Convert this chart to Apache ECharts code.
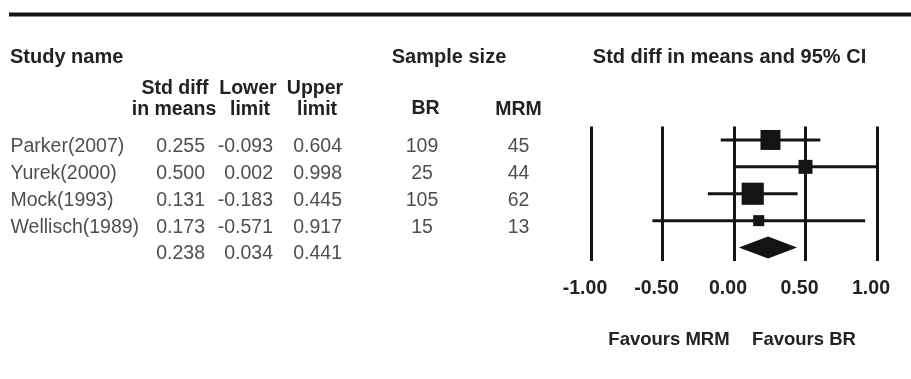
<!DOCTYPE html>
<html><head><meta charset="utf-8">
<script src="https://cdn.jsdelivr.net/npm/echarts@6/dist/echarts.min.js"></script>
<style>html,body{margin:0;padding:0;background:#fff}#c{width:911px;height:379px}</style>
</head><body><div id="c"></div>
<script>
// ---- data ----
const studies = ['Parker(2007)', 'Yurek(2000)', 'Mock(1993)', 'Wellisch(1989)'];
const stdDiff = [0.255, 0.500, 0.131, 0.173];
const lowerLimit = [-0.093, 0.002, -0.183, -0.571];
const upperLimit = [0.604, 0.998, 0.445, 0.917];
const sampleBR = [109, 25, 105, 15];
const sampleMRM = [45, 44, 62, 13];
const summary = { est: 0.238, lower: 0.034, upper: 0.441 };
const xTicks = [-1, -0.5, 0, 0.5, 1];

// ---- layout (not data) ----
const FONT = '"Liberation Sans", Arial, Helvetica, sans-serif';
const FS = 19.5;
const TXT = '#222';
const INK = '#141414';
const GRID_TOP = 126.5, GRID_H = 134.5;
const COL = { name: 10.5, est: 205, lo: 273, up: 342, br: 422, mrm: 518.5 };
const rowCount = studies.length + 1;
const rows = [];
for (let i = 0; i < rowCount; i++) rows.push('r' + i);
const summaryRow = studies.length;

const chart = echarts.init(document.getElementById('c'), null, { renderer: 'canvas' });

function textCol(key, getText, align) {
  const data = [];
  for (let i = 0; i < rowCount; i++) {
    const t = getText(i);
    if (t !== null && t !== undefined && t !== '') data.push({ value: [COL[key], i], txt: t });
  }
  return {
    type: 'scatter', xAxisIndex: 1, yAxisIndex: 1, symbolSize: 0, silent: true,
    data: data,
    label: {
      show: true, position: 'inside', align: align, verticalAlign: 'middle', offset: [0, 6.5],
      color: TXT, fontFamily: FONT, fontSize: FS,
      formatter: p => p.data.txt
    }
  };
}

const ciData = studies.map((s, i) => [lowerLimit[i], upperLimit[i], i]);
const sqData = studies.map((s, i) => [stdDiff[i], i, lowerLimit[i], upperLimit[i]]);

function hdr(text, x, y, align, size) {
  return { type: 'text', x: x, y: y, silent: true,
    style: { text: text, fill: TXT, font: 'bold ' + (size || FS) + 'px ' + FONT, align: align || 'center', verticalAlign: 'middle' } };
}

chart.setOption({
  animation: false,
  backgroundColor: '#fff',
  grid: [
    { left: 591, right: 34, top: GRID_TOP, height: GRID_H },
    { left: 0, width: 560, top: GRID_TOP, height: GRID_H }
  ],
  xAxis: [
    { gridIndex: 0, type: 'value', min: -1, max: 1, interval: 0.5,
      axisLine: { show: false }, axisTick: { show: false },
      splitLine: { show: true, lineStyle: { color: INK, width: 3 } },
      axisLabel: { show: true, margin: 17.5, color: TXT, fontFamily: FONT, fontWeight: 'bold', fontSize: FS,
        padding: [0, 12, 0, 0],
        formatter: v => v.toFixed(2) } },
    { gridIndex: 1, type: 'value', min: 0, max: 560, show: false }
  ],
  yAxis: [
    { gridIndex: 0, type: 'category', data: rows, inverse: true, show: false },
    { gridIndex: 1, type: 'category', data: rows, inverse: true, show: false }
  ],
  series: [
    { type: 'custom', xAxisIndex: 0, yAxisIndex: 0, data: ciData, silent: true,
      renderItem: (params, api) => {
        const a = api.coord([api.value(0), api.value(2)]);
        const b = api.coord([api.value(1), api.value(2)]);
        return { type: 'line', shape: { x1: a[0], y1: a[1], x2: b[0], y2: b[1] },
          style: { stroke: INK, lineWidth: 3 } };
      } },
    { type: 'scatter', xAxisIndex: 0, yAxisIndex: 0, data: sqData, symbol: 'rect', silent: true,
      symbolSize: v => Math.max(11, 3.55 * 3.92 / (v[3] - v[2])),
      itemStyle: { color: INK, opacity: 1 } },
    { type: 'custom', xAxisIndex: 0, yAxisIndex: 0, silent: true,
      data: [[summary.lower, summary.est, summary.upper, summaryRow]],
      renderItem: (params, api) => {
        const r = api.value(3);
        const l = api.coord([api.value(0), r]);
        const m = api.coord([api.value(1), r]);
        const u = api.coord([api.value(2), r]);
        const hh = 11;
        return { type: 'polygon', shape: { points: [[l[0], l[1]], [m[0], m[1] - hh], [u[0], u[1]], [m[0], m[1] + hh]] },
          style: { fill: INK } };
      } },
    textCol('name', i => studies[i], 'left'),
    textCol('est', i => i < studies.length ? stdDiff[i].toFixed(3) : summary.est.toFixed(3), 'right'),
    textCol('lo', i => i < studies.length ? lowerLimit[i].toFixed(3) : summary.lower.toFixed(3), 'right'),
    textCol('up', i => i < studies.length ? upperLimit[i].toFixed(3) : summary.upper.toFixed(3), 'right'),
    textCol('br', i => i < studies.length ? String(sampleBR[i]) : '', 'center'),
    textCol('mrm', i => i < studies.length ? String(sampleMRM[i]) : '', 'center')
  ],
  graphic: [
    { type: 'line', silent: true, shape: { x1: 9, y1: 14.5, x2: 911, y2: 14.5 }, style: { stroke: INK, lineWidth: 4 } },
    hdr('Study name', 10, 57, 'left', 20),
    hdr('Sample size', 449, 57, 'center', 20),
    hdr('Std diff in means and 95% CI', 729.5, 57, 'center', 20),
    hdr('Std diff', 175, 89),
    hdr('in means', 174, 110),
    hdr('Lower', 248, 89),
    hdr('limit', 250, 110),
    hdr('Upper', 315, 89),
    hdr('limit', 317, 110),
    hdr('BR', 425.5, 109),
    hdr('MRM', 518.5, 110),
    hdr('Favours MRM', 669, 339.5, 'center', 18.5),
    hdr('Favours BR', 804, 339.5, 'center', 18.5)
  ]
});
</script>
</body></html>
